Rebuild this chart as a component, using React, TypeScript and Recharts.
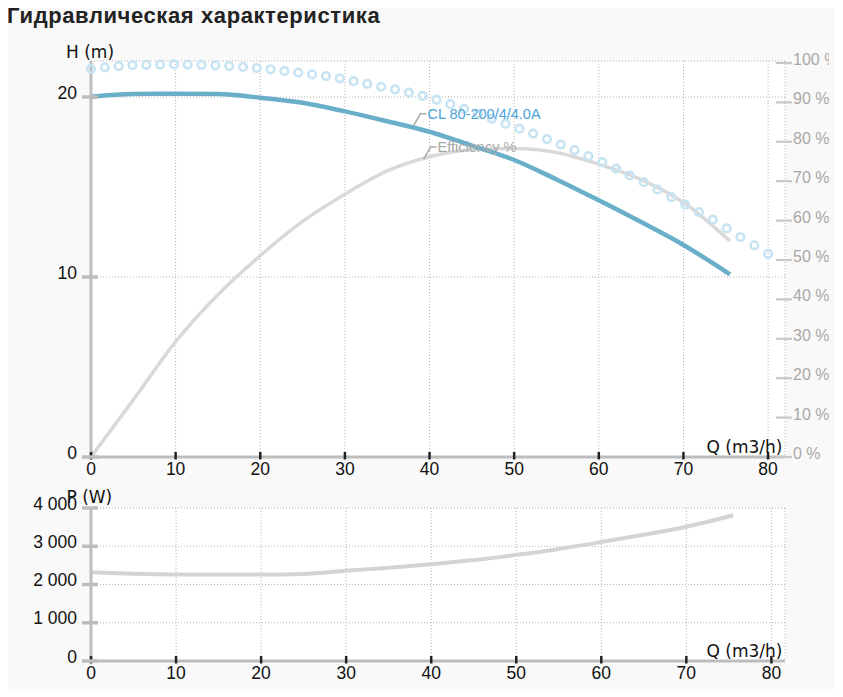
import { LineChart, Line, XAxis, YAxis, CartesianGrid, ReferenceDot } from "recharts";

// axis ticks
const qTicks = [0, 10, 20, 30, 40, 50, 60, 70, 80];
const hTicks = [0, 10, 20];
const effTicks = [0, 10, 20, 30, 40, 50, 60, 70, 80, 90, 100];
const pTicks = [0, 1000, 2000, 3000, 4000];

// pump curves
const curveQ = [0, 5, 10, 15, 20, 25, 30, 35, 40, 45, 50, 55, 60, 65, 70, 75.5];
const headM = [20.02, 20.17, 20.18, 20.16, 19.96, 19.68, 19.2, 18.65, 18.07, 17.3, 16.5, 15.42, 14.26, 13.05, 11.78, 10.15];
const efficiencyPct = [0, 14.5, 29.3, 41.2, 51.1, 59.8, 66.7, 72.6, 76.2, 78.0, 78.3, 77.3, 74.3, 70.4, 64.6, 54.8];
const powerW = [2320, 2280, 2260, 2260, 2260, 2275, 2360, 2440, 2530, 2640, 2775, 2930, 3110, 3300, 3510, 3810];

// dotted reference curve
const dotQ = [0, 1.63, 3.27, 4.9, 6.53, 8.16, 9.8, 11.43, 13.06, 14.69, 16.33, 17.96, 19.59, 21.22, 22.86, 24.49, 26.12, 27.76, 29.39, 31.02, 32.65, 34.29, 35.92, 37.55, 39.18, 40.82, 42.45, 44.08, 45.71, 47.35, 48.98, 50.61, 52.24, 53.88, 55.51, 57.14, 58.78, 60.41, 62.04, 63.67, 65.31, 66.94, 68.57, 70.2, 71.84, 73.47, 75.1, 76.73, 78.37, 80];
const dotH = [21.56, 21.65, 21.72, 21.77, 21.79, 21.8, 21.81, 21.8, 21.78, 21.76, 21.72, 21.67, 21.61, 21.54, 21.45, 21.36, 21.26, 21.16, 21.04, 20.88, 20.73, 20.57, 20.42, 20.24, 20.06, 19.85, 19.6, 19.34, 19.07, 18.8, 18.52, 18.24, 17.96, 17.66, 17.36, 17.05, 16.72, 16.38, 16.02, 15.64, 15.27, 14.86, 14.44, 14.02, 13.6, 13.19, 12.7, 12.22, 11.76, 11.28];

const headData = curveQ.map((q, i) => ({ q, v: headM[i] }));
const effData = curveQ.map((q, i) => ({ q, v: efficiencyPct[i] }));
const powerData = curveQ.map((q, i) => ({ q, v: powerW[i] }));
const dotData = dotQ.map((q, i) => ({ q, v: dotH[i] }));

const AXIS_GRAY = "#bdbdbd";
const GRID = "#b4b4b4";
const ARIAL = "'Liberation Sans', Arial, sans-serif";
const VERDANA = "'DejaVu Sans', Verdana, sans-serif";

const fmtNum = (v: number) =>
  v >= 1000 ? `${Math.floor(v / 1000)} ${String(v % 1000).padStart(3, "0")}` : String(v);

const LeftTick = (props: any) => {
  const { x, y, payload } = props;
  const ax = x + 14;
  return (
    <g>
      <line x1={ax - 9} x2={ax + 7} y1={y} y2={y} stroke={AXIS_GRAY} strokeWidth={3.5} />
      <text x={x} y={y + 1.5} textAnchor="end" fontSize={17.5} fontFamily={ARIAL} fill="#111">
        {fmtNum(payload.value)}
      </text>
    </g>
  );
};

const RightTick = (props: any) => {
  const { x, y, payload } = props;
  const ax = x - 8;
  return (
    <g>
      <line x1={ax - 9} x2={ax + 7} y1={y} y2={y} stroke="#c8c8c8" strokeWidth={2.2} />
      <text x={x} y={y + 2} textAnchor="start" fontSize={16} fontFamily={ARIAL} fill="#a8a8a8">
        {`${payload.value} %`}
      </text>
    </g>
  );
};

const BottomTick = (props: any) => {
  const { x, y, payload } = props;
  const ay = y - 10;
  return (
    <g>
      <line x1={x} x2={x} y1={ay - 5} y2={ay + 2.5} stroke="#222" strokeWidth={2.5} />
      <text x={x} y={ay + 17.5} textAnchor="middle" fontSize={17.5} fontFamily={ARIAL} fill="#111">
        {payload.value}
      </text>
    </g>
  );
};

const Annotation = ({ cx, cy, text, color }: any) => (
  <g>
    <path d={`M${cx},${cy} L${cx + 7},${cy - 12} L${cx + 13},${cy - 12}`} fill="none" stroke="#aaaaaa" strokeWidth={1.5} />
    <text x={cx + 14} y={cy - 12} dominantBaseline="central" fontSize={14.5} fontFamily={ARIAL} fill={color}>
      {text}
    </text>
  </g>
);

export default function App() {
  return (
    <div style={{ position: "relative", margin: -8, width: 838, height: 697, background: "#f9f9f9", overflow: "hidden" }}>
      <div style={{ position: "absolute", left: 0, top: 30 }}>
        <LineChart width={829} height={470} margin={{ top: 31, right: 0, bottom: 13, left: 31 }}>
          <CartesianGrid yAxisId="h" stroke={GRID} strokeDasharray="1 2" fill="#ffffff" fillOpacity={1} />
          <XAxis
            type="number"
            dataKey="q"
            domain={[0, 82]}
            ticks={qTicks}
            interval={0}
            height={30}
            tickSize={0}
            tickMargin={10}
            tickLine={false}
            axisLine={{ stroke: AXIS_GRAY, strokeWidth: 3 }}
            tick={<BottomTick />}
          />
          <YAxis
            yAxisId="h"
            type="number"
            domain={[0, 22]}
            ticks={hTicks}
            interval={0}
            width={60}
            tickSize={0}
            tickMargin={14}
            tickLine={false}
            axisLine={{ stroke: AXIS_GRAY, strokeWidth: 3 }}
            tick={<LeftTick />}
          />
          <YAxis
            yAxisId="eff"
            orientation="right"
            type="number"
            domain={[0, 100.5]}
            ticks={effTicks}
            interval={0}
            width={44}
            tickSize={0}
            tickMargin={8}
            tickLine={false}
            axisLine={false}
            tick={<RightTick />}
          />
          <Line
            yAxisId="eff"
            data={effData}
            dataKey="v"
            type="monotone"
            stroke="#d9d9d9"
            strokeWidth={3.5}
            dot={false}
            isAnimationActive={false}
          />
          <Line
            yAxisId="h"
            data={dotData}
            dataKey="v"
            stroke="none"
            dot={{ r: 3.8, stroke: "#c8e4f2", strokeWidth: 2.6, fill: "none" }}
            isAnimationActive={false}
          />
          <Line
            yAxisId="h"
            data={headData}
            dataKey="v"
            type="monotone"
            stroke="#6aafca"
            strokeWidth={4.5}
            dot={false}
            isAnimationActive={false}
          />
          <ReferenceDot
            yAxisId="h"
            x={38.1}
            y={18.4}
            r={0}
            shape={(p: any) => <Annotation {...p} text="CL 80-200/4/4.0A" color="#4aa3d9" />}
          />
          <ReferenceDot
            yAxisId="eff"
            x={39.3}
            y={75.6}
            r={0}
            shape={(p: any) => <Annotation {...p} text="Efficiency %" color="#aaaaaa" />}
          />
        </LineChart>
      </div>

      <div style={{ position: "absolute", left: 0, top: 490 }}>
        <LineChart width={829} height={207} margin={{ top: 18, right: 44, bottom: 6, left: 31 }}>
          <CartesianGrid yAxisId="p" stroke={GRID} strokeDasharray="1 2" fill="#ffffff" fillOpacity={1} />
          <XAxis
            type="number"
            dataKey="q"
            domain={[0, 81.6]}
            ticks={qTicks}
            interval={0}
            height={30}
            tickSize={0}
            tickMargin={10}
            tickLine={false}
            axisLine={{ stroke: AXIS_GRAY, strokeWidth: 3 }}
            tick={<BottomTick />}
          />
          <YAxis
            yAxisId="p"
            type="number"
            domain={[0, 4000]}
            ticks={pTicks}
            interval={0}
            width={60}
            tickSize={0}
            tickMargin={14}
            tickLine={false}
            axisLine={{ stroke: AXIS_GRAY, strokeWidth: 3 }}
            tick={<LeftTick />}
          />
          <Line
            yAxisId="p"
            data={powerData}
            dataKey="v"
            type="monotone"
            stroke="#d4d4d4"
            strokeWidth={4}
            dot={false}
            isAnimationActive={false}
          />
        </LineChart>
      </div>

      <svg width={838} height={697} style={{ position: "absolute", left: 0, top: 0, pointerEvents: "none" }}>
        <text x={7} y={23} fontSize={22} fontWeight="bold" letterSpacing={0.6} fontFamily={ARIAL} fill="#222">
          Гидравлическая характеристика
        </text>
        <text x={66} y={58} fontSize={17} fontFamily={VERDANA} fill="#111">H (m)</text>
        <text x={706.5} y={453} fontSize={17} fontFamily={VERDANA} fill="#111">Q (m3/h)</text>
        <text x={66.5} y={503} fontSize={17} fontFamily={VERDANA} fill="#111">P (W)</text>
        <text x={706.5} y={657} fontSize={17} fontFamily={VERDANA} fill="#111">Q (m3/h)</text>
      </svg>
    </div>
  );
}
